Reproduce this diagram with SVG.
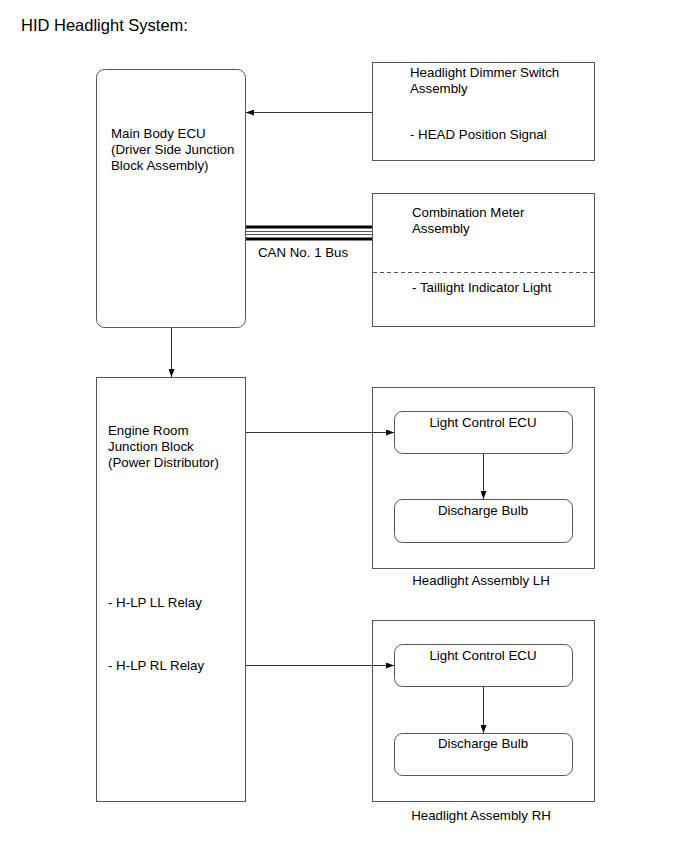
<svg xmlns="http://www.w3.org/2000/svg" width="690" height="854" viewBox="0 0 690 854">
<style>
  .box { fill: #ffffff; stroke: #555555; stroke-width: 1; }
  .t { font-family: "Liberation Sans", Arial, sans-serif; font-size: 13.3px; fill: #000000; }
  .tc { font-family: "Liberation Sans", Arial, sans-serif; font-size: 13.3px; fill: #000000; text-anchor: middle; }
  .ln { stroke: #333333; stroke-width: 1; fill: none; }
  .thick { stroke: #000000; stroke-width: 3; }
  .thin { stroke: #555555; stroke-width: 1; }
</style>
<defs>
  <marker id="arr" viewBox="0 0 8 6" refX="8" refY="3" markerWidth="8" markerHeight="6" markerUnits="userSpaceOnUse" orient="auto">
    <path d="M0,0 L8,3 L0,6 z" fill="#000000"/>
  </marker>
</defs>
<rect width="690" height="854" fill="#ffffff"/>
<text x="21" y="31" font-family="Liberation Sans, Arial, sans-serif" font-size="16.5" fill="#000">HID Headlight System:</text>

<g id="main-body-ecu">
  <rect class="box" x="96.5" y="69.5" width="149" height="258" rx="8" ry="8"/>
  <text class="t" x="111" y="138">Main Body ECU</text>
  <text class="t" x="111" y="154">(Driver Side Junction</text>
  <text class="t" x="111" y="170">Block Assembly)</text>
</g>

<g id="dimmer-switch">
  <rect class="box" x="372.5" y="62.5" width="222" height="98"/>
  <text class="t" x="410" y="77">Headlight Dimmer Switch</text>
  <text class="t" x="410" y="93">Assembly</text>
  <text class="t" x="410" y="139">- HEAD Position Signal</text>
</g>

<g id="combination-meter">
  <rect class="box" x="372.5" y="193.5" width="222" height="133"/>
  <line x1="373" y1="272.5" x2="594" y2="272.5" stroke="#555555" stroke-width="1" stroke-dasharray="4,3"/>
  <text class="t" x="412" y="217">Combination Meter</text>
  <text class="t" x="412" y="233">Assembly</text>
  <text class="t" x="412" y="292">- Taillight Indicator Light</text>
</g>

<g id="engine-room-jb">
  <rect class="box" x="96.5" y="377.5" width="149" height="424"/>
  <text class="t" x="108" y="435">Engine Room</text>
  <text class="t" x="108" y="451">Junction Block</text>
  <text class="t" x="108" y="467">(Power Distributor)</text>
  <text class="t" x="108" y="607">- H-LP LL Relay</text>
  <text class="t" x="108" y="670">- H-LP RL Relay</text>
</g>

<g id="headlight-lh">
  <rect class="box" x="372.5" y="387.5" width="222" height="181"/>
  <text class="tc" x="481" y="585">Headlight Assembly LH</text>
</g>
<g id="lce-lh">
  <rect class="box" x="394.5" y="411.5" width="178" height="42" rx="8" ry="8"/>
  <text class="tc" x="483" y="427">Light Control ECU</text>
</g>
<g id="bulb-lh">
  <rect class="box" x="394.5" y="499.5" width="178" height="43" rx="8" ry="8"/>
  <text class="tc" x="483" y="515">Discharge Bulb</text>
</g>

<g id="headlight-rh">
  <rect class="box" x="372.5" y="620.5" width="222" height="181"/>
  <text class="tc" x="481" y="820">Headlight Assembly RH</text>
</g>
<g id="lce-rh">
  <rect class="box" x="394.5" y="644.5" width="178" height="42" rx="8" ry="8"/>
  <text class="tc" x="483" y="660">Light Control ECU</text>
</g>
<g id="bulb-rh">
  <rect class="box" x="394.5" y="733.5" width="178" height="42" rx="8" ry="8"/>
  <text class="tc" x="483" y="748">Discharge Bulb</text>
</g>

<g id="connectors">
  <line class="ln" x1="372" y1="112.5" x2="246" y2="112.5" marker-end="url(#arr)"/>
  <line class="thick" x1="246" y1="227" x2="372" y2="227"/>
  <line class="thin" x1="246" y1="231.5" x2="372" y2="231.5"/>
  <line class="thin" x1="246" y1="234.5" x2="372" y2="234.5"/>
  <line class="thick" x1="246" y1="239" x2="372" y2="239"/>
  <text class="t" x="258" y="257">CAN No. 1 Bus</text>
  <line class="ln" x1="171.5" y1="328" x2="171.5" y2="377" marker-end="url(#arr)"/>
  <line class="ln" x1="246" y1="432.5" x2="394" y2="432.5" marker-end="url(#arr)"/>
  <line class="ln" x1="483.5" y1="454" x2="483.5" y2="499" marker-end="url(#arr)"/>
  <line class="ln" x1="246" y1="665.5" x2="394" y2="665.5" marker-end="url(#arr)"/>
  <line class="ln" x1="483.5" y1="687" x2="483.5" y2="733" marker-end="url(#arr)"/>
</g>
</svg>
